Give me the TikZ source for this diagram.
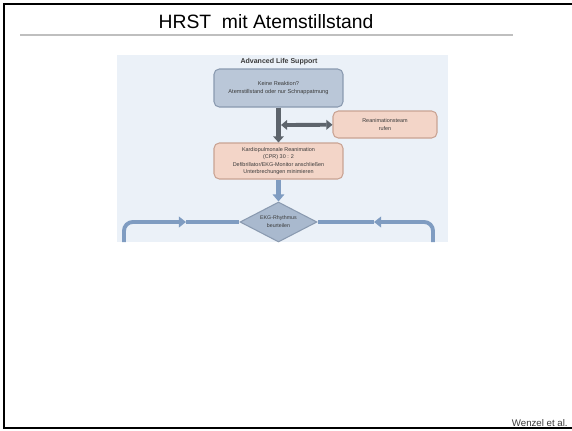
\documentclass[tikz,border=0pt]{standalone}
\usepackage{fontspec}
\setmainfont{Liberation Sans}
\usepackage{xcolor}
\usepackage{tikz}
\usetikzlibrary{arrows.meta,shapes.geometric}
\definecolor{alsback}{HTML}{EBF1F8}
\definecolor{alsblue}{HTML}{BAC7D8}
\definecolor{alsblueline}{HTML}{8A9AB0}
\definecolor{alssalmon}{HTML}{F3D5C8}
\definecolor{alssalmonline}{HTML}{C9A393}
\definecolor{alsdiamond}{HTML}{A9B9CE}
\definecolor{alsdark}{HTML}{5D646C}
\definecolor{alsflow}{HTML}{7F9CC1}
\definecolor{alstext}{HTML}{3A3A3A}
\tikzstyle{blue box}=[fill=alsblue, draw=alsblueline, line width=0.6pt, shape=rectangle, rounded corners=3pt, minimum width=2.58cm, minimum height=0.76cm, inner sep=0pt, align=center, text=alstext, font=\fontsize{3.2}{4.8}\selectfont]
\tikzstyle{salmon box}=[blue box, fill=alssalmon, draw=alssalmonline, font=\fontsize{3.1}{4.3}\selectfont]
\tikzstyle{test node}=[fill=alsdiamond, draw=alsblueline, line width=0.6pt, shape=diamond, aspect=1.9, minimum width=1.54cm, minimum height=0.8cm, inner sep=0pt, align=center, text=alstext, font=\fontsize{3}{4.6}\selectfont]
\tikzstyle{dark arrow}=[draw=alsdark, line width=2.6pt, -{Triangle[length=3.5pt, width=6pt]}]
\tikzstyle{dark both}=[draw=alsdark, line width=2.2pt, {Triangle[length=3.5pt, width=5.5pt]}-{Triangle[length=3.5pt, width=5.5pt]}]
\tikzstyle{flow arrow}=[draw=alsflow, line width=2.6pt, -{Triangle[length=4pt, width=6.5pt]}]
\tikzstyle{flow line}=[draw=alsflow, line width=2.2pt]
\pgfdeclarelayer{bglayer}
\pgfdeclarelayer{nodelayer}
\pgfdeclarelayer{edgelayer}
\pgfsetlayers{main,bglayer,nodelayer,edgelayer}
\begin{document}
\begin{tikzpicture}[x=0.02cm, y=-0.02cm]
	\useasboundingbox [fill=white] (0, 0) rectangle (572, 430);
	\begin{pgfonlayer}{bglayer}
		\fill [alsback] (117, 55) rectangle (448, 242);
		\draw [line width=1.2pt] (572, 4) -- (4, 4) -- (4, 428) -- (572, 428);
		\draw [black!25, line width=0.6pt] (20, 35) -- (513, 35);
	\end{pgfonlayer}
	\begin{pgfonlayer}{nodelayer}
		\node [inner sep=0pt, font=\fontsize{11}{13}\selectfont] (0) at (266, 22) {HRST~~mit Atemstillstand};
		\node [inner sep=0pt, text=alstext, font=\bfseries\fontsize{4}{5}\selectfont] (1) at (279, 62) {Advanced Life Support};
		\node [style=blue box] (2) at (278.5, 88) {Keine Reaktion?\\Atemstillstand oder nur Schnappatmung};
		\node [style=salmon box, minimum width=2.08cm, minimum height=0.54cm] (3) at (385, 124.5) {Reanimationsteam\\rufen};
		\node [style=salmon box, minimum height=0.72cm] (4) at (278.5, 161) {Kardiopulmonale Reanimation\\(CPR) 30 : 2\\Defibrillator/EKG-Monitor anschließen\\Unterbrechungen minimieren};
		\node [style=test node] (5) at (278.5, 222) {EKG-Rhythmus\\beurteilen};
		\node [inner sep=0pt, anchor=south east, text=alstext, font=\fontsize{5.5}{6}\selectfont] (6) at (568, 427) {Wenzel et al.};
		\coordinate (7) at (281, 125);
		\coordinate (8) at (124, 242);
		\coordinate (9) at (186, 222);
		\coordinate (10) at (433, 242);
		\coordinate (11) at (374, 222);
	\end{pgfonlayer}
	\begin{pgfonlayer}{edgelayer}
		\draw [style=dark arrow] (2) to (4);
		\draw [style=dark both] (7) to (3);
		\draw [style=flow arrow] (4) to (5);
		\draw [style=flow line, rounded corners=5pt, -{Triangle[length=4pt, width=6pt]}] (8) |- (9);
		\draw [style=flow line] (9) to (5.west);
		\draw [style=flow line, rounded corners=5pt, -{Triangle[length=4pt, width=6pt]}] (10) |- (11);
		\draw [style=flow line] (11) to (5.east);
	\end{pgfonlayer}
\end{tikzpicture}
\end{document}
